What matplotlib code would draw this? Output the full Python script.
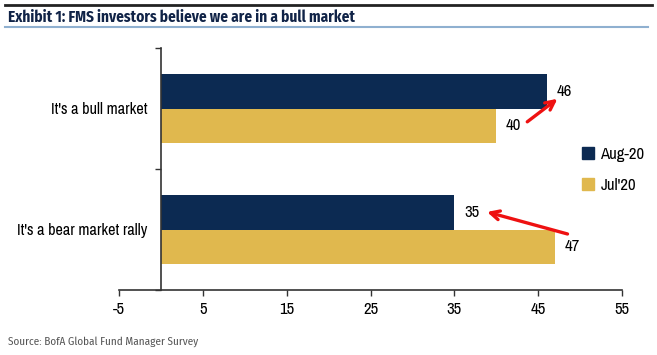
import matplotlib
matplotlib.use('Agg')
import matplotlib.pyplot as plt
from matplotlib import font_manager
from matplotlib.lines import Line2D
import matplotlib.patches as mpatches
import numpy as np

categories = ["It's a bear market rally", "It's a bull market"]
aug_20 = [35, 46]
jul_20 = [47, 40]
series_names = ['Aug-20', "Jul'20"]
x_ticks = [-5, 5, 15, 25, 35, 45, 55]

navy = '#0c2a52'
gold = '#e0b84e'

installed = {f.name for f in font_manager.fontManager.ttflist}


def pick(prefs):
    for p in prefs:
        if p in installed:
            return p
    return 'DejaVu Sans'


# arial narrow look-alike for the chart, condensed humanist for title/source
narrow = pick(['Arial Narrow', 'Liberation Sans Narrow', 'Archivo Narrow', 'PT Sans Narrow',
               'Roboto Condensed', 'IBM Plex Sans Condensed'])
cond = pick(['Fira Sans Condensed', 'Open Sans Condensed', 'Encode Sans Condensed',
             'Asap Condensed', 'IBM Plex Sans Condensed', 'Roboto Condensed'])
fs = 12

fig = plt.figure(figsize=(6.57, 3.55), dpi=100)
ax = fig.add_axes([119/657, 65/355, 503/657, 242/355])

# y axis crosses at x=0 (set before the tick labels, it resets the ticks)
for s in ['top', 'right']:
    ax.spines[s].set_visible(False)
ax.spines['left'].set_position(('data', 0))
for s in ['left', 'bottom']:
    ax.spines[s].set_color('#333333')
    ax.spines[s].set_linewidth(1.2)

y = np.arange(len(categories))
h = 0.285
ax.barh(y + h/2, aug_20, height=h, color=navy, label=series_names[0])
ax.barh(y - h/2, jul_20, height=h, color=gold, label=series_names[1])

# value labels right of the bars
for yy, v in zip(y + h/2, aug_20):
    ax.annotate(str(v), (v, yy), xytext=(7, 0), textcoords='offset points',
                ha='left', va='center', fontsize=fs, family=narrow)
for yy, v in zip(y - h/2, jul_20):
    ax.annotate(str(v), (v, yy), xytext=(7, 0), textcoords='offset points',
                ha='left', va='center', fontsize=fs, family=narrow)

# red arrows
arr = dict(arrowstyle='->', color='#ee1111', lw=2.4, mutation_scale=16,
           shrinkA=0, shrinkB=0)
ax.annotate('', xy=(47.3, 1.08), xytext=(43.7, 0.89), arrowprops=arr)
ax.annotate('', xy=(38.9, 0.145), xytext=(48.5, -0.037), arrowprops=arr)

ax.set_xlim(-5, 55)
ax.set_ylim(-0.5, 1.5)
ax.set_xticks(x_ticks)
ax.set_xticklabels([str(t) for t in x_ticks], family=narrow, fontsize=fs)
ax.set_yticks(y)
ax.set_yticklabels(categories, family=narrow, fontsize=11.6)
ax.set_yticks([-0.5, 0.5, 1.5], minor=True)
ax.tick_params(axis='y', which='major', length=0, pad=10)
ax.tick_params(axis='y', which='minor', length=4, width=1, color='#333333')
ax.tick_params(axis='x', length=4, width=1, color='#333333', pad=5)

handles = [mpatches.Patch(color=navy, label=series_names[0]),
           mpatches.Patch(color=gold, label=series_names[1])]
fig.legend(handles=handles, loc='center left', bbox_to_anchor=(567/657, 1 - 170/355),
           frameon=False, prop={'family': narrow, 'size': fs},
           handlelength=0.7, handleheight=0.7, handletextpad=0.4, labelspacing=0.95)

# header lines, title, source
fig.add_artist(Line2D([5/657, 652/657], [1 - 5/355, 1 - 5/355], color='#222222', lw=2))
fig.add_artist(Line2D([5/657, 648/657], [1 - 27/355, 1 - 27/355], color='#8fb0d0', lw=1.5))
fig.text(8/657, 1 - 17/355, 'Exhibit 1: FMS investors believe we are in a bull market',
         family=cond, fontweight='bold', fontsize=11, color='#102347', va='center')
fig.text(8/657, 1 - 342/355, 'Source: BofA Global Fund Manager Survey',
         family=cond, fontsize=8, color='#555555', va='center')

fig.savefig('out.png', dpi=100)
